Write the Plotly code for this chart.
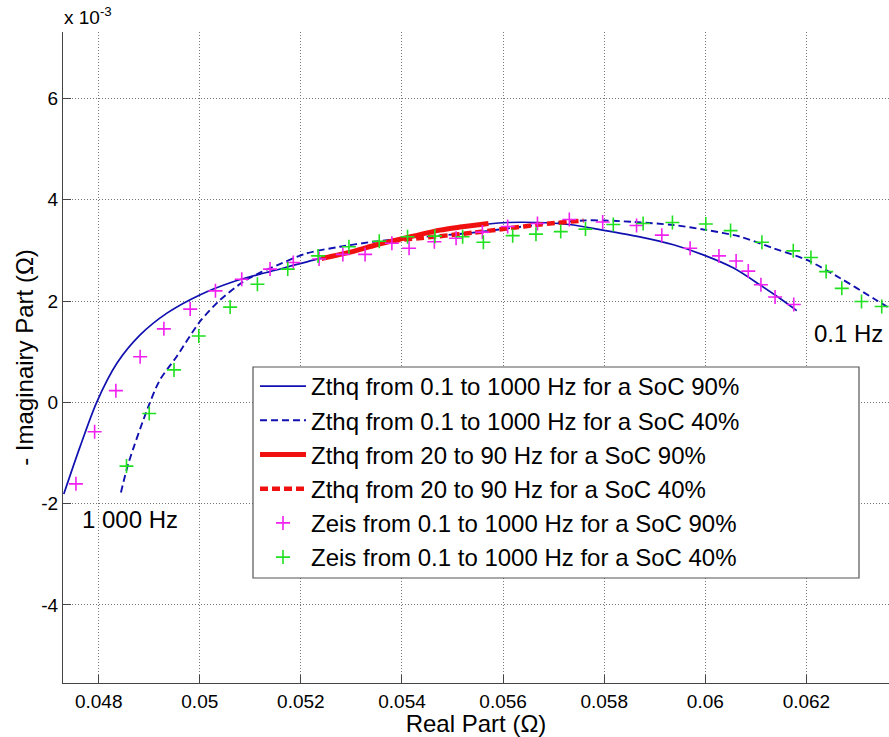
import plotly.graph_objects as go

# ---------------- data (x in Ohm, y in 1e-3 Ohm) ----------------
zthq90_x = [0.04731, 0.04763, 0.04796, 0.04836, 0.04882, 0.04935, 0.05000, 0.05066,
            0.05119, 0.05139, 0.05238, 0.05343, 0.05409, 0.05475, 0.05571, 0.05609,
            0.05668, 0.05731, 0.05797, 0.05868, 0.05937, 0.05996, 0.06056, 0.06108,
            0.06148, 0.06181]
zthq90_y = [-1.81, -0.88, 0.00, 0.77, 1.33, 1.76, 2.12, 2.38,
            2.53, 2.58, 2.84, 3.08, 3.24, 3.38, 3.52, 3.55,
            3.55, 3.51, 3.40, 3.27, 3.11, 2.91, 2.65, 2.32,
            2.05, 1.81]

zthq40_x = [0.04844, 0.04859, 0.04898, 0.04921, 0.04954, 0.05000, 0.05040, 0.05086,
            0.05119, 0.05145, 0.05211, 0.05277, 0.05343, 0.05409, 0.05475, 0.05541,
            0.05607, 0.05673, 0.05759, 0.05800, 0.05860, 0.05937, 0.06003, 0.06069,
            0.06135, 0.06201, 0.06267, 0.06333, 0.06364]
zthq40_y = [-1.78, -1.20, -0.09, 0.44, 0.90, 1.59, 2.02, 2.38,
            2.56, 2.67, 2.94, 3.07, 3.17, 3.24, 3.29, 3.35,
            3.43, 3.51, 3.59, 3.59, 3.56, 3.50, 3.40, 3.27,
            3.04, 2.81, 2.45, 2.05, 1.86]

zthq90_hf_x = [0.05241, 0.05300, 0.05343, 0.05409, 0.05475, 0.05515, 0.05571]
zthq90_hf_y = [2.84, 2.97, 3.09, 3.25, 3.40, 3.46, 3.53]

zthq40_hf_x = [0.05380, 0.05475, 0.05541, 0.05607, 0.05673, 0.05759]
zthq40_hf_y = [3.19, 3.28, 3.35, 3.43, 3.51, 3.59]

zeis90_x = [0.04755, 0.04792, 0.04834, 0.04882, 0.04929, 0.04981, 0.05031, 0.05083,
            0.05139, 0.05185, 0.05236, 0.05283, 0.05327, 0.05380, 0.05414, 0.05464,
            0.05507, 0.05559, 0.05609, 0.05668, 0.05731, 0.05797, 0.05864, 0.05914,
            0.05970, 0.06027, 0.06061, 0.06085, 0.06110, 0.06138, 0.06175]
zeis90_y = [-1.61, -0.58, 0.23, 0.90, 1.45, 1.84, 2.20, 2.43,
            2.63, 2.76, 2.83, 2.92, 2.92, 3.14, 3.04, 3.17,
            3.24, 3.36, 3.47, 3.53, 3.61, 3.56, 3.49, 3.30,
            3.04, 2.89, 2.79, 2.59, 2.32, 2.08, 1.93]

zeis40_x = [0.04855, 0.04900, 0.04949, 0.04998, 0.05060, 0.05114, 0.05174, 0.05234,
            0.05295, 0.05355, 0.05411, 0.05465, 0.05520, 0.05561, 0.05619, 0.05665,
            0.05714, 0.05763, 0.05818, 0.05877, 0.05935, 0.06001, 0.06050, 0.06112,
            0.06174, 0.06209, 0.06239, 0.06270, 0.06309, 0.06349]
zeis40_y = [-1.26, -0.22, 0.64, 1.31, 1.88, 2.33, 2.63, 2.89,
            3.07, 3.18, 3.27, 3.28, 3.27, 3.16, 3.29, 3.32,
            3.37, 3.42, 3.51, 3.53, 3.55, 3.52, 3.39, 3.16,
            2.99, 2.86, 2.58, 2.25, 1.99, 1.89]

x_ticks = [0.048, 0.050, 0.052, 0.054, 0.056, 0.058, 0.060, 0.062]
x_tick_labels = ["0.048", "0.05", "0.052", "0.054", "0.056", "0.058", "0.06", "0.062"]
y_ticks = [-4, -2, 0, 2, 4, 6]
y_tick_labels = ["-4", "-2", "0", "2", "4", "6"]

names = [
    "Zthq from 0.1 to 1000 Hz for a SoC 90%",
    "Zthq from 0.1 to 1000 Hz for a SoC 40%",
    "Zthq from 20 to 90 Hz for a SoC 90%",
    "Zthq from 20 to 90 Hz for a SoC 40%",
    "Zeis from 0.1 to 1000 Hz for a SoC 90%",
    "Zeis from 0.1 to 1000 Hz for a SoC 40%",
]

BLUE = "#1010b0"
RED = "#f01010"
MAGENTA = "#f020f0"
GREEN = "#20e020"
FONT = "Liberation Sans, Arial, sans-serif"

fig = go.Figure()
fig.add_trace(go.Scatter(x=zthq90_x, y=zthq90_y, mode="lines", name=names[0], legendgroup="a",
                         line=dict(color=BLUE, width=1.7, shape="spline", smoothing=0.8)))
fig.add_trace(go.Scatter(x=zthq40_x, y=zthq40_y, mode="lines", name=names[1], legendgroup="b",
                         line=dict(color=BLUE, width=1.9, dash="7px,4px", shape="spline", smoothing=0.8)))
fig.add_trace(go.Scatter(x=zthq90_hf_x, y=zthq90_hf_y, mode="lines", name=names[2], legendgroup="c",
                         line=dict(color=RED, width=5, shape="spline", smoothing=0.8)))
fig.add_trace(go.Scatter(x=zthq40_hf_x, y=zthq40_hf_y, mode="lines", name=names[3], legendgroup="d",
                         line=dict(color=RED, width=4.5, dash="8px,4px", shape="spline", smoothing=0.8)))
fig.add_trace(go.Scatter(x=zeis90_x, y=zeis90_y, mode="markers", name=names[4], legendgroup="e",
                         marker=dict(symbol="cross-thin", size=10, line=dict(color=MAGENTA, width=1.6))))
fig.add_trace(go.Scatter(x=zeis40_x, y=zeis40_y, mode="markers", name=names[5], legendgroup="f",
                         marker=dict(symbol="cross-thin", size=10, line=dict(color=GREEN, width=1.6))))

L, R, T, B = 63, 0, 32, 54
W, H = 889, 737
pw, ph = W - L - R, H - T - B

def px2paper(px, py):
    return (px - L) / pw, (H - B - py) / ph

bx0, by0 = px2paper(253, 578)
bx1, by1 = px2paper(859, 367)

fig.add_shape(type="rect", xref="paper", yref="paper", x0=bx0, y0=by0, x1=bx1, y1=by1,
              fillcolor="white", line=dict(color="#555555", width=1.2), layer="above")

lx, ly = px2paper(255, 364)

fig.update_layout(
    width=W, height=H,
    margin=dict(l=L, r=R, t=T, b=B),
    paper_bgcolor="white", plot_bgcolor="white",
    font=dict(family=FONT, color="black", size=19),
    showlegend=True,
    legend=dict(x=lx, y=ly, xanchor="left", yanchor="top", bgcolor="rgba(0,0,0,0)",
                borderwidth=0, font=dict(family=FONT, size=24, color="black"),
                traceorder="grouped", tracegroupgap=0, itemwidth=46),
    xaxis=dict(range=[0.047294, 0.063634], tickvals=x_ticks, ticktext=x_tick_labels,
               ticks="inside", ticklen=8, tickcolor="#444", showline=True, linecolor="#444",
               linewidth=1, mirror=False, showgrid=True, gridcolor="#777", gridwidth=1,
               griddash="1px,2px", zeroline=False, tickfont=dict(size=19),
               ticklabelstandoff=1,
               title=dict(text="Real Part (Ω)", font=dict(size=24), standoff=0),
               automargin=False),
    yaxis=dict(range=[-5.542, 7.311], tickvals=y_ticks, ticktext=y_tick_labels,
               ticks="inside", ticklen=8, tickcolor="#444", showline=True, linecolor="#444",
               linewidth=1, mirror=False, showgrid=True, gridcolor="#777", gridwidth=1,
               griddash="1px,2px", zeroline=False, tickfont=dict(size=19),
               title=dict(text="- Imaginairy Part (Ω)", font=dict(size=24), standoff=0),
               automargin=False),
)

fig.add_annotation(x=0.04763, y=-2.31, xref="x", yref="y", text="1 000 Hz", showarrow=False,
                   xanchor="left", yanchor="middle", font=dict(size=24, family=FONT))
fig.add_annotation(x=0.062106, y=1.36, xref="x", yref="y", text="0.1 Hz", showarrow=False,
                   xanchor="left", yanchor="middle", font=dict(size=24, family=FONT))
fig.add_annotation(x=0, y=1, xref="paper", yref="paper", xshift=-1, yshift=2,
                   text="x 10<sup>-3</sup>", showarrow=False,
                   xanchor="left", yanchor="bottom", font=dict(size=19, family=FONT))

fig.write_html("out.html", config={"displayModeBar": False},
               post_script="document.body.style.margin='0';document.body.style.overflow='hidden';")
